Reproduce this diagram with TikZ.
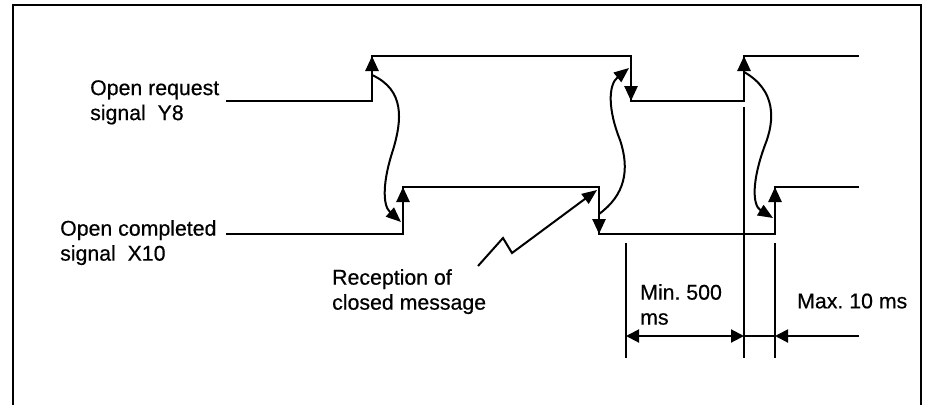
\documentclass[tikz,border=0pt]{standalone}
\usepackage{fontspec}
\setmainfont{Liberation Sans}
\newfontfamily\scanfont[FakeBold=0.5]{Liberation Sans}
\usetikzlibrary{arrows.meta}
\begin{document}
\begin{tikzpicture}[x=1pt, y=-1pt,
    sig/.style={line width=2.6pt, line join=miter},
    edgearrow/.style={line width=2.6pt, -{Triangle[length=15pt, width=13pt]}},
    wave/.style={line width=2pt, -{Triangle[length=15pt, width=12pt]}},
    dim/.style={line width=2pt},
    dimtip/.tip={Triangle[length=13pt, width=13pt]},
    lbl/.style={font=\scanfont\fontsize{21.3}{25}\selectfont\frenchspacing, inner sep=0pt, align=left},
]
\useasboundingbox (0,0) rectangle (925,405);

% frame (open at the bottom)
\draw[line width=2.2pt] (13,405) -- (13,5) -- (921,5) -- (921,405);

% signal labels
\node[lbl, anchor=north west] (ly8) at (90,80) {Open request\\signal\ \ Y8};
\node[lbl, anchor=north west] (lx10) at (60,220) {Open completed\\signal\ \ X10};
\node[lbl, anchor=north west] (lrec) at (332,269) {Reception of\\closed message};
\node[lbl, anchor=north west] (lmin) at (640,284) {Min. 500\\ms};
\node[lbl, anchor=west] (lmax) at (797,301) {Max. 10 ms};

% Y8 corners
\coordinate (ya) at (226,101);
\coordinate (yb) at (372,101);
\coordinate (yc) at (372,56);
\coordinate (yd) at (631,56);
\coordinate (ye) at (631,101);
\coordinate (yf) at (744,101);
\coordinate (yg) at (744,56);
\coordinate (yh) at (859,56);

% X10 corners
\coordinate (xa) at (226,234);
\coordinate (xb) at (403,234);
\coordinate (xc) at (403,187);
\coordinate (xd) at (599,187);
\coordinate (xe) at (599,234);
\coordinate (xf) at (775,234);
\coordinate (xg) at (775,187);
\coordinate (xh) at (859,187);

% waveforms
\draw[sig] (ya) -- (yb) -- (yc) -- (yd) -- (ye) -- (yf) -- (yg) -- (yh);
\draw[sig] (xa) -- (xb) -- (xc) -- (xd) -- (xe) -- (xf) -- (xg) -- (xh);
\draw[edgearrow] (yb) -- (yc);
\draw[edgearrow] (yd) -- (ye);
\draw[edgearrow] (yf) -- (yg);
\draw[edgearrow] (xb) -- (xc);
\draw[edgearrow] (xd) -- (xe);
\draw[edgearrow] (xf) -- (xg);

% cause and effect
\coordinate (c1s) at (372,75);
\coordinate (c1e) at (401,222);
\coordinate (c2s) at (599,214);
\coordinate (c2e) at (629,68);
\coordinate (c3s) at (744,72);
\coordinate (c3e) at (773,218);
\draw[wave] (c1s) .. controls (405,90) and (402,120) .. (393,150)
    .. controls (383,180) and (382,205) .. (c1e);
\draw[wave] (c2s) .. controls (625,195) and (630,170) .. (620,140)
    .. controls (608,110) and (608,85) .. (c2e);
\draw[wave] (c3s) .. controls (776,90) and (775,120) .. (765,145)
    .. controls (752,180) and (752,205) .. (c3e);

% closed message
\coordinate (z0) at (478,266);
\coordinate (z1) at (503,238);
\coordinate (z2) at (512,253);
\coordinate (z3) at (597,190);
\draw[wave] (z0) -- (z1) -- (z2) -- (z3);

% timing
\coordinate (m1) at (626,336);
\coordinate (m2) at (744,336);
\coordinate (m3) at (775,336);
\coordinate (m4) at (859,336);
\draw[dim] (626,243) -- (626,358);
\draw[dim] (744,107) -- (744,358);
\draw[dim] (775,243) -- (775,358);
\draw[dim, dimtip-dimtip] (m1) -- (m2);
\draw[dim] (m2) -- (m3);
\draw[dim, -dimtip] (m4) -- (m3);

\end{tikzpicture}
\end{document}
